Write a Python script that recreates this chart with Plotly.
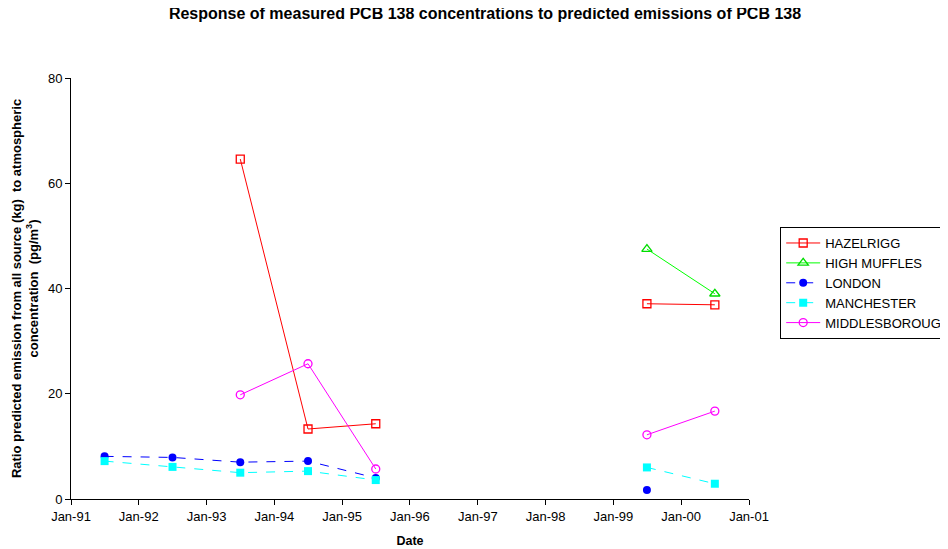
import plotly.graph_objects as go

dates = ["1991-07-01", "1992-07-01", "1993-07-01", "1994-07-01", "1995-07-01",
         "1996-07-01", "1997-07-01", "1998-07-01", "1999-07-01", "2000-07-01"]
hazelrigg = [None, None, 64.6, 13.3, 14.3, None, None, None, 37.1, 36.9]
high_muffles = [None, None, None, None, None, None, None, None, 47.5, 39.0]
london = [8.1, 7.9, 7.0, 7.2, 4.0, None, None, None, 1.7, None]
manchester = [7.2, 6.1, 5.0, 5.3, 3.6, None, None, None, 6.0, 2.9]
middlesborough = [None, None, 19.8, 25.7, 5.7, None, None, None, 12.2, 16.7]

tick_vals = ["%d-01-01" % y for y in range(1991, 2002)]
tick_text = ["Jan-%02d" % (y % 100) for y in range(1991, 2002)]

fig = go.Figure()
fig.add_trace(go.Scatter(x=dates, y=hazelrigg, name="HAZELRIGG", mode="lines+markers",
                         line=dict(color="#ff0000", width=1),
                         marker=dict(symbol="square-open", size=8, color="#ff0000", line=dict(width=1.3))))
fig.add_trace(go.Scatter(x=dates, y=high_muffles, name="HIGH MUFFLES", mode="lines+markers",
                         line=dict(color="#00ff00", width=1),
                         marker=dict(symbol="triangle-up-open", size=9, color="#00dd00", line=dict(width=1.3))))
fig.add_trace(go.Scatter(x=dates, y=london, name="LONDON", mode="lines+markers",
                         line=dict(color="#0000ff", width=1, dash="dash"),
                         marker=dict(symbol="circle", size=8, color="#0000ff")))
fig.add_trace(go.Scatter(x=dates, y=manchester, name="MANCHESTER", mode="lines+markers",
                         line=dict(color="#00ffff", width=1, dash="dash"),
                         marker=dict(symbol="square", size=8, color="#00ffff")))
fig.add_trace(go.Scatter(x=dates, y=middlesborough, name="MIDDLESBOROUGH", mode="lines+markers",
                         line=dict(color="#ff00ff", width=1),
                         marker=dict(symbol="circle-open", size=8, color="#ff00ff", line=dict(width=1.3))))

fig.update_layout(
    width=948, height=549,
    paper_bgcolor="white", plot_bgcolor="white",
    margin=dict(l=63, r=207, t=70, b=58, autoexpand=False),
    font=dict(family="Liberation Sans, Arial", size=13, color="black"),
    title=dict(text="<b>Response of measured PCB 138 concentrations to predicted emissions of PCB 138</b>",
               x=477 / 948, xref="container", xanchor="center",
               y=1 - 5 / 549, yref="container", yanchor="middle", font=dict(size=16)),
    showlegend=True,
    legend=dict(x=1.046, y=0.646, xanchor="left", yanchor="top",
                bordercolor="black", borderwidth=1, bgcolor="white",
                font=dict(size=13), tracegroupgap=0, itemwidth=34),
    xaxis=dict(type="date", range=["1991-01-01", "2001-01-01"],
               tickvals=tick_vals, ticktext=tick_text,
               showline=True, linecolor="black", linewidth=1,
               ticks="outside", ticklen=5, tickcolor="black",
               showgrid=False, zeroline=False, automargin=False,
               title=dict(text="<b>Date</b>", font=dict(size=12.5), standoff=13)),
    yaxis=dict(range=[0, 80], tickvals=[0, 20, 40, 60, 80],
               showline=True, linecolor="black", linewidth=1,
               ticks="outside", ticklen=5, tickcolor="black",
               showgrid=False, zeroline=False, automargin=False,
               title=dict(text="<b>Ratio predicted emission from all source (kg)  to atmospheric<br>concentration  (pg/m<sup>3</sup>)</b>",
                          font=dict(size=13), standoff=6)),
)

fig.write_html("out.html")
